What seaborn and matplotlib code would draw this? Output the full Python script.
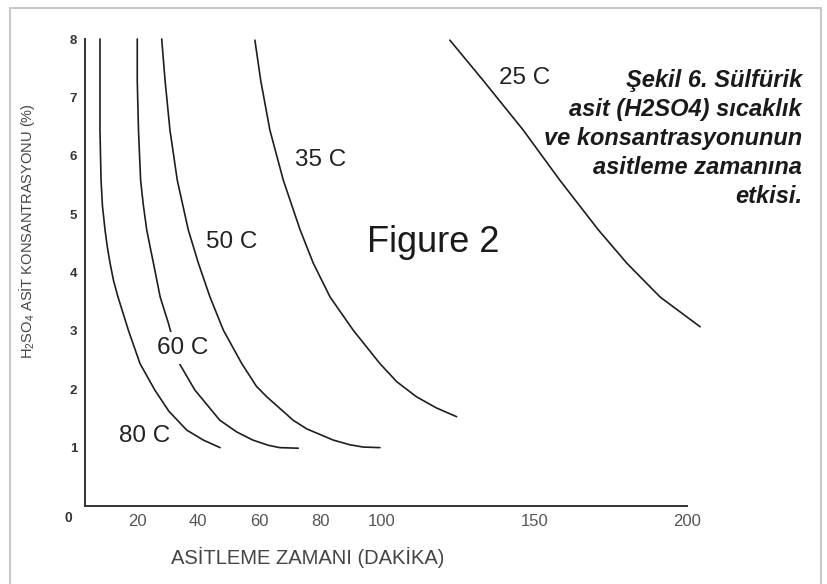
import matplotlib
matplotlib.use("Agg")
from matplotlib import pyplot as plt
from matplotlib.patches import Rectangle
import pandas as pd
import seaborn as sns

# Curves: acid concentration (%) vs. pickling time (min)
temp_labels = ["80 C", "60 C", "50 C", "35 C", "25 C"]

t80_time = [7.9, 7.9, 7.9, 8.25, 8.7, 9.55, 10.3, 11.2, 12.3, 13.8, 17.2, 21.0, 25.8, 30.5, 36.3, 41.7, 47.2]
t80_conc = [8.0, 7.29, 6.44, 5.58, 5.15, 4.73, 4.44, 4.16, 3.87, 3.58, 3.01, 2.44, 1.99, 1.62, 1.30, 1.13, 1.0]

t60_time = [20.1, 20.1, 20.5, 21.2, 22.1, 23.2, 24.3, 25.4, 27.6, 30.3, 33.9, 38.9, 47.1, 52.6, 57.9, 63.0, 66.7, 72.8]
t60_conc = [8.0, 7.29, 6.44, 5.58, 5.15, 4.73, 4.44, 4.16, 3.58, 3.13, 2.44, 1.99, 1.47, 1.27, 1.13, 1.04, 1.0, 0.99]

t50_time = [28.1, 29.2, 30.8, 33.2, 36.8, 40.1, 43.9, 48.3, 54.3, 59.1, 62.5, 71.1, 75.6, 84.2, 89.6, 94.0, 99.5]
t50_conc = [8.0, 7.29, 6.44, 5.58, 4.73, 4.16, 3.58, 3.01, 2.44, 2.05, 1.87, 1.47, 1.32, 1.13, 1.05, 1.01, 1.0]

t35_time = [58.6, 60.5, 63.5, 67.9, 73.4, 77.7, 83.2, 90.8, 99.5, 105.0, 111.5, 118.0, 124.6]
t35_conc = [7.98, 7.29, 6.44, 5.58, 4.73, 4.16, 3.58, 3.01, 2.44, 2.13, 1.87, 1.68, 1.53]

t25_time = [122.4, 133.3, 146.4, 158.4, 171.0, 180.3, 191.2, 204.3]
t25_conc = [7.98, 7.29, 6.44, 5.58, 4.73, 4.16, 3.58, 3.07]

# where each curve label sits
label_time = [22.5, 35.1, 51.1, 80.2, 147.0]
label_conc = [1.20, 2.71, 4.52, 5.92, 7.34]

x_ticks = [20, 40, 60, 80, 100, 150, 200]
y_ticks = [0, 1, 2, 3, 4, 5, 6, 7, 8]
y_tick_labels = ["", "1", "2", "3", "4", "5", "6", "7", "8"]

caption_lines = [
    "Şekil 6. Sülfürik",
    "asit (H2SO4) sıcaklık",
    "ve konsantrasyonunun",
    "asitleme zamanına",
    "etkisi.",
]

curves = [
    (t80_time, t80_conc),
    (t60_time, t60_conc),
    (t50_time, t50_conc),
    (t35_time, t35_conc),
    (t25_time, t25_conc),
]
frames = []
for name, (t, c) in zip(temp_labels, curves):
    frames.append(pd.DataFrame({"time": t, "conc": c, "temp": name}))
df = pd.concat(frames, ignore_index=True)

sns.set_style("white")
plt.rcParams["font.family"] = ["Liberation Sans", "DejaVu Sans"]
plt.rcParams["mathtext.fontset"] = "custom"
plt.rcParams["mathtext.rm"] = "Liberation Sans"

fig = plt.figure(figsize=(8.28, 5.84), dpi=100)
ax = fig.add_axes([85 / 828, 78 / 584, 602 / 828, 467 / 584])

sns.lineplot(data=df, x="time", y="conc", hue="temp", palette=["#1e1e1e"] * 5,
             sort=False, estimator=None, legend=False, linewidth=1.2, ax=ax)
for line in ax.lines:
    line.set_clip_on(False)
    line.set_solid_joinstyle("round")

ax.set_xlim(3, 200)
ax.set_ylim(0, 8)

for name, tx, ty in zip(temp_labels, label_time, label_conc):
    ax.text(tx, ty, name, ha="center", va="center", fontsize=17.5, color="#222222",
            zorder=5, bbox=dict(boxstyle="square,pad=0.2", fc="white", ec="none"))

ax.text(116.9, 4.35, "Figure 2", ha="center", va="baseline", fontsize=26, color="#1a1a1a")

# axes look
sns.despine(ax=ax)
for side in ["left", "bottom"]:
    ax.spines[side].set_color("#333333")
    ax.spines[side].set_linewidth(1.4)

ax.set_xticks(x_ticks)
ax.set_xticklabels([str(v) for v in x_ticks], fontsize=12, color="#555555")
ax.set_yticks(y_ticks)
ax.set_yticklabels(y_tick_labels, fontsize=9.5, fontweight="bold", color="#333333")
ax.tick_params(axis="both", direction="inout", length=3.5, width=3, color="#1e1e1e")
ax.tick_params(axis="x", pad=4)
ax.tick_params(axis="y", pad=4)
ax.annotate("0", xy=(3, 0), xytext=(-12, -9), textcoords="offset points",
            ha="center", va="center", fontsize=10, fontweight="bold", color="#333333",
            annotation_clip=False)

ax.set_xlabel("ASİTLEME ZAMANI (DAKİKA)", fontsize=14.5, color="#444444")
ax.xaxis.set_label_coords(0.370, -0.087)
ax.set_ylabel("H$_2$SO$_4$ ASİT KONSANTRASYONU (%)", fontsize=10.5, color="#444444")
ax.yaxis.set_label_coords(-0.080, 0.589)

# caption on the right, one line at a time
for i, line in enumerate(caption_lines):
    fig.text(802 / 828, 1 - (87 + 29 * i) / 584, line, ha="right", va="baseline",
             fontsize=17, fontweight="bold", style="italic", color="#1a1a1a")

# light grey frame round the picture
fig.patches.append(Rectangle((10 / 828, -0.02), 811 / 828, 1 - 8 / 584 + 0.02,
                             transform=fig.transFigure, fill=False,
                             edgecolor="#c8c8c8", linewidth=1.5))

fig.savefig("out.png", dpi=100)
plt.close(fig)
